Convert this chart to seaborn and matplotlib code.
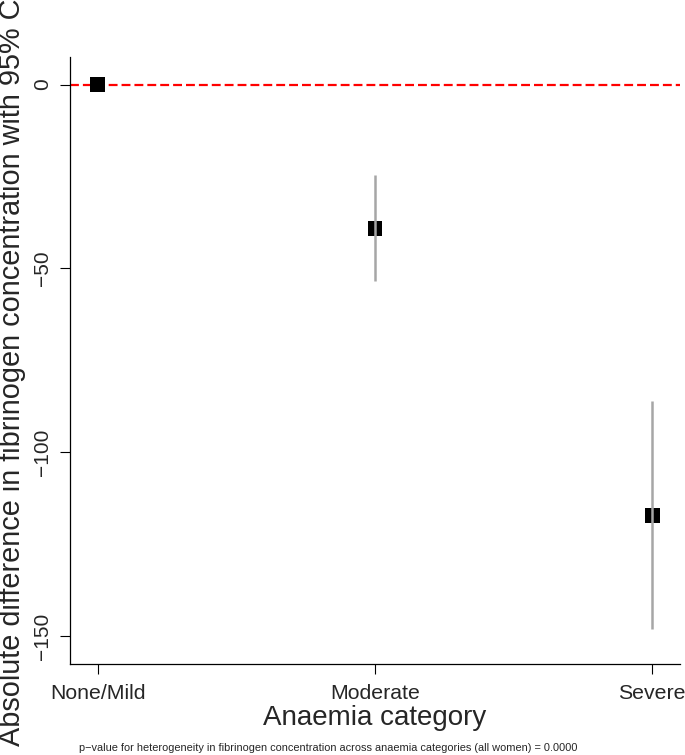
import numpy as np
import pandas as pd
import seaborn as sns
import matplotlib.pyplot as plt

# Values
categories = ['None/Mild', 'Moderate', 'Severe']
estimate = [0.0, -39.2, -117.1]
ci_low = [0.0, -53.5, -148.1]
ci_high = [0.0, -24.7, -86.1]
y_ticks = [-150, -100, -50, 0]
y_title = 'Absolute difference in fibrinogen concentration with 95% CI'
x_title = 'Anaemia category'
note = ('p\u2212value for heterogeneity in fibrinogen concentration across '
        'anaemia categories (all women) = 0.0000')

sns.set_style('ticks')
plt.rcParams['font.family'] = ['Liberation Sans', 'DejaVu Sans']

df = pd.DataFrame({'category': categories, 'estimate': estimate,
                   'lo': ci_low, 'hi': ci_high})
df['pos'] = np.arange(len(df))

fig = plt.figure(figsize=(6.85, 7.55), dpi=100)
ax = fig.add_axes([0.1022, 0.1205, 0.8905, 0.804])

# reference line at zero
ax.axhline(0, color='#ff0000', lw=1.6, dashes=(4, 1.8), zorder=1)

# point estimates
sns.scatterplot(data=df, x='pos', y='estimate', marker='s', s=115,
                color='black', edgecolor='none', linewidth=0, zorder=2, ax=ax)

# confidence intervals drawn over the markers
ax.vlines(df['pos'], df['lo'], df['hi'], color='#a6a6a6', lw=1.8, zorder=3)

ax.set_xlim(-0.1, 2.1)
ax.set_ylim(-157.6, 7.5)
ax.set_xticks(df['pos'])
ax.set_xticklabels(categories, fontsize=15.3)
ax.set_yticks(y_ticks)
ax.set_yticklabels([f'\u2212{abs(t)}' if t < 0 else str(t) for t in y_ticks],
                   rotation=90, va='center', fontsize=15)
ax.tick_params(axis='both', length=7, width=0.8, color='black')
ax.tick_params(axis='x', pad=7.5)
ax.tick_params(axis='y', pad=6)

ax.set_xlabel(x_title, fontsize=20, labelpad=1)
ax.set_ylabel(y_title, fontsize=20.8)
ax.yaxis.set_label_coords(-0.072, 0.488)

for side in ['top', 'right']:
    ax.spines[side].set_visible(False)
for side in ['left', 'bottom']:
    ax.spines[side].set_linewidth(0.9)
    ax.spines[side].set_color('black')

fig.text(79 / 685, 1 - 748 / 755, note, fontsize=7.9, ha='left', va='center')

plt.savefig('out.png', dpi=100)
